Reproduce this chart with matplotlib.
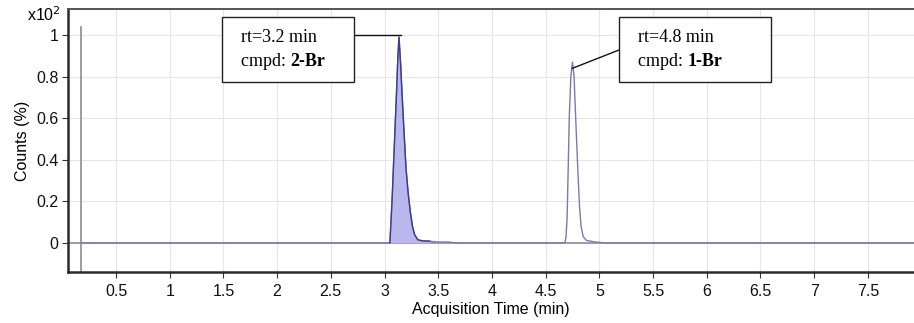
import matplotlib
matplotlib.use("Agg")
import matplotlib.pyplot as plt
import numpy as np

# Chromatogram trace (acquisition time in min, counts in units of x10^2 %)
time_min = [0.17, 2.90, 3.05, 3.07, 3.09, 3.11, 3.125, 3.135, 3.15, 3.16, 3.18,
            3.20, 3.22, 3.24, 3.26, 3.28, 3.31, 3.35, 3.42, 3.50, 3.60, 3.66,
            4.60, 4.68, 4.69, 4.70, 4.71, 4.72, 4.735, 4.75, 4.765, 4.78,
            4.80, 4.815, 4.83, 4.85, 4.88, 4.95, 5.05, 7.93]
counts = [0.0, 0.0, 0.0, 0.2, 0.45, 0.7, 0.9, 0.99, 0.86, 0.75, 0.55,
          0.36, 0.24, 0.15, 0.08, 0.04, 0.015, 0.01, 0.008, 0.004, 0.004, 0.0,
          0.0, 0.0, 0.03, 0.12, 0.35, 0.60, 0.80, 0.87, 0.80, 0.60,
          0.35, 0.18, 0.08, 0.03, 0.012, 0.005, 0.0, 0.0]

# Integrated peak window (first compound)
fill_start, fill_end = 3.05, 3.42

# Peak annotations
peak_labels = [("rt=3.2 min", "2-Br"), ("rt=4.8 min", "1-Br")]
peak_apex = [(3.135, 0.99), (4.75, 0.87)]

x_ticks = [0.5, 1, 1.5, 2, 2.5, 3, 3.5, 4, 4.5, 5, 5.5, 6, 6.5, 7, 7.5]
y_ticks = [0, 0.2, 0.4, 0.6, 0.8, 1]

plt.rcParams["font.family"] = ["Liberation Sans", "DejaVu Sans"]

fig = plt.figure(figsize=(9.14, 3.23), dpi=100)
ax = fig.add_axes([0.0744, 0.158, 0.9256, 0.814])

t = np.array(time_min)
c = np.array(counts)

ax.axhline(0, color="#8c8ca8", lw=1.2, zorder=2)
mask = (t >= fill_start) & (t <= fill_end)
ax.fill_between(t[mask], 0, c[mask], color="#b8b8ee", lw=0, zorder=3)
ax.plot(t, c, color="#7a7ab0", lw=1.0, zorder=4)
ax.plot(t[mask], c[mask], color="#3c3c8a", lw=1.0, zorder=5)
ax.axvline(0.17, ymin=0, ymax=(1.04 + 0.14) / (1.125 + 0.14),
           color="#8c8c8c", lw=1.2, zorder=2)

ax.set_xlim(0.053, 7.93)
ax.set_ylim(-0.14, 1.125)
ax.set_xticks(x_ticks)
ax.set_xticklabels([f"{v:g}" for v in x_ticks])
ax.set_yticks(y_ticks)
ax.set_yticklabels([f"{v:g}" for v in y_ticks])
ax.tick_params(axis="both", labelsize=11.5, color="#333333", length=4,
               width=0.8, direction="out", labelcolor="#111111", pad=3)
ax.tick_params(axis="x", pad=5)
ax.grid(True, color="#e6e6ea", lw=0.8, zorder=0)
ax.set_axisbelow(True)

for s in ("left", "bottom"):
    ax.spines[s].set_color("#2a2a2a")
    ax.spines[s].set_linewidth(1.8)
ax.spines["top"].set_color("#555555")
ax.spines["top"].set_linewidth(1.4)
ax.spines["right"].set_visible(False)

ax.set_xlabel("Acquisition Time (min)", fontsize=11.5, labelpad=2)
ax.set_ylabel("Counts (%)", fontsize=11.5, labelpad=4)
fig.text(0.029, 0.925, r"x10$^2$", fontsize=11.5, ha="left", va="bottom")

# Annotation boxes with leader lines to the peak apexes
box_pos = [(222, 354), (619, 771)]
box_y = (17, 82)


def px_to_fig(x, y):
    return x / 914, 1 - y / 323


serif = ["Liberation Serif", "DejaVu Serif"]
renderer = fig.canvas.get_renderer()
for (rt, cmpd), (x0, x1) in zip(peak_labels, box_pos):
    fx0, fy0 = px_to_fig(x0, box_y[1])
    fx1, fy1 = px_to_fig(x1, box_y[0])
    rect = plt.Rectangle((fx0, fy0), fx1 - fx0, fy1 - fy0, transform=fig.transFigure,
                         facecolor="white", edgecolor="#222222", lw=1.0, zorder=10)
    fig.add_artist(rect)
    tx, ty = px_to_fig(x0 + 19, 38)
    fig.text(tx, ty, rt, fontsize=13, family=serif, va="center", zorder=11)
    tx, ty = px_to_fig(x0 + 19, 62)
    lead = fig.text(tx, ty, "cmpd: ", fontsize=13, family=serif, va="center",
                    zorder=11)
    w = lead.get_window_extent(renderer).width
    fig.text(tx + w / 914, ty, cmpd, fontsize=13, family=serif, weight="bold",
             va="center", zorder=11)

# leader lines from the box edges to the apexes
disp_to_data = ax.transData.inverted()
p1 = disp_to_data.transform((354, 323 - 35))
ax.plot([p1[0], 3.155], [p1[1], p1[1]], color="#111111", lw=1.0, zorder=9,
        clip_on=False)
p2 = disp_to_data.transform((619, 323 - 50))
ax.plot([p2[0], peak_apex[1][0]], [p2[1], 0.84], color="#111111", lw=1.0,
        zorder=9, clip_on=False)

fig.savefig("out.png", dpi=100)
